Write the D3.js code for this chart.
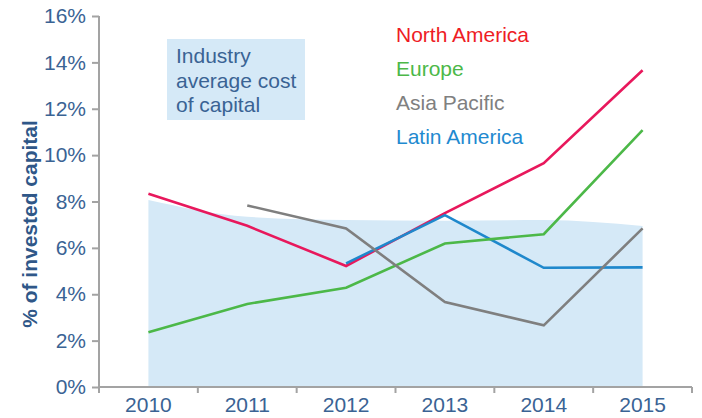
<!DOCTYPE html>
<meta charset="utf-8">
<script src="https://d3js.org/d3.v7.min.js"></script>
<head>
  <style>
  body { margin: 0; background: #fff; }
  svg text { font-family: "Liberation Sans", Arial, sans-serif; }
  </style>
</head>
<body>
<div id="chart"></div>
<script>

  // data (percent of invested capital)
  var years = ["2010", "2011", "2012", "2013", "2014", "2015"]
  var industryAvg = [8.06, 7.34, 7.2, 7.17, 7.2, 6.94]
  var northAmerica = [8.33, 6.95, 5.22, 7.5, 9.65, 13.66]
  var europe = [2.36, 3.58, 4.28, 6.19, 6.59, 11.08]
  var asiaPacific = [null, 7.83, 6.84, 3.66, 2.66, 6.84]
  var latinAmerica = [null, null, 5.33, 7.41, 5.14, 5.16]
  var yTicks = [0, 2, 4, 6, 8, 10, 12, 14, 16]

  var series = [
    {name: "North America", values: northAmerica, line: "#e8185c", label: "#ee1c25"},
    {name: "Latin America", values: latinAmerica, line: "#1f88cc", label: "#1f8ad0"},
    {name: "Europe", values: europe, line: "#4cb848", label: "#4cb848"},
    {name: "Asia Pacific", values: asiaPacific, line: "#7f7f7f", label: "#808080"}
  ]
  var legendOrder = ["North America", "Europe", "Asia Pacific", "Latin America"]

  var width = 702, height = 418
  var plot = {left: 99, right: 692, top: 16, bottom: 387}

  var svg = d3.select("#chart")
    .append("svg")
    .attr("width", width)
    .attr("height", height)

  var x = d3.scaleBand().domain(years).range([plot.left, plot.right])
  var y = d3.scaleLinear().domain([0, 16]).range([plot.bottom, plot.top])
  var cx = function(i) { return x(years[i]) + x.bandwidth() / 2 }

  // industry average area
  var area = d3.area()
    .x(function(d, i) { return cx(i) })
    .y0(y(0))
    .y1(function(d) { return y(d) })
    .curve(d3.curveMonotoneX)

  svg.append("path")
    .datum(industryAvg)
    .attr("d", area)
    .attr("fill", "#d5e9f7")

  // lines
  var line = d3.line()
    .defined(function(d) { return d != null })
    .x(function(d, i) { return cx(i) })
    .y(function(d) { return y(d) })

  series.forEach(function(s) {
    svg.append("path")
      .datum(s.values)
      .attr("d", line)
      .attr("fill", "none")
      .attr("stroke", s.line)
      .attr("stroke-width", 2.6)
  })

  // axes
  var axisColor = "#a3a3a3"
  var labelColor = "#3a6394"

  var yAxis = svg.append("g")
    .attr("transform", "translate(" + plot.left + ",0)")
    .call(d3.axisLeft(y).tickValues(yTicks).tickSize(7).tickPadding(6)
      .tickFormat(function(d) { return d + "%" }))
  yAxis.select(".domain").attr("stroke", axisColor).attr("stroke-width", 2)
    .attr("d", "M0," + plot.top + "V" + plot.bottom)
  yAxis.selectAll(".tick line").attr("stroke", axisColor).attr("stroke-width", 2)
  yAxis.selectAll("text")
    .attr("fill", labelColor)
    .style("font-family", "'Liberation Sans', Arial, sans-serif")
    .style("font-size", "21px")

  var xAxis = svg.append("g")
    .attr("transform", "translate(0," + plot.bottom + ")")
  xAxis.append("line")
    .attr("x1", plot.left).attr("x2", plot.right)
    .attr("stroke", axisColor).attr("stroke-width", 2)
  // ticks sit at the band edges
  xAxis.selectAll(".edge")
    .data(years.concat(["end"]))
    .enter().append("line")
    .attr("x1", function(d, i) { return i < years.length ? x(d) : plot.right })
    .attr("x2", function(d, i) { return i < years.length ? x(d) : plot.right })
    .attr("y1", 0).attr("y2", 6)
    .attr("stroke", axisColor).attr("stroke-width", 2)
  xAxis.selectAll(".lab")
    .data(years)
    .enter().append("text")
    .attr("x", function(d) { return x(d) + x.bandwidth() / 2 })
    .attr("y", 25)
    .attr("text-anchor", "middle")
    .attr("fill", labelColor)
    .style("font-size", "21px")
    .text(function(d) { return d })

  // y axis title
  svg.append("text")
    .attr("transform", "translate(37,224) rotate(-90)")
    .attr("text-anchor", "middle")
    .attr("fill", "#2f5788")
    .style("font-size", "21px")
    .style("font-weight", "bold")
    .text("% of invested capital")

  // industry average label box
  svg.append("rect")
    .attr("x", 167).attr("y", 39)
    .attr("width", 138).attr("height", 81)
    .attr("fill", "#d5e9f7")
  svg.append("text")
    .attr("x", 176).attr("y", 63)
    .attr("fill", "#3a6394")
    .style("font-size", "21px")
    .selectAll("tspan")
    .data(["Industry", "average cost", "of capital"])
    .enter().append("tspan")
    .attr("x", 176)
    .attr("dy", function(d, i) { return i ? 24.7 : 0 })
    .text(function(d) { return d })

  // legend
  legendOrder.forEach(function(name, i) {
    var s = series.find(function(d) { return d.name === name })
    svg.append("text")
      .attr("x", 396)
      .attr("y", 42 + i * 34)
      .attr("fill", s.label)
      .style("font-size", "21px")
      .text(name)
  })

</script>
</body>
